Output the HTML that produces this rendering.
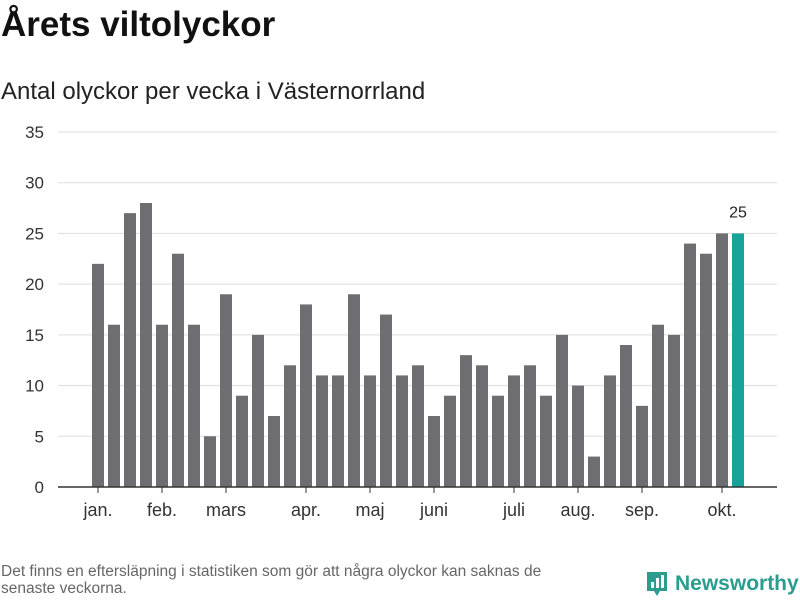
<!DOCTYPE html>
<html><head><meta charset="utf-8"><style>
body{margin:0;width:800px;height:600px;background:#fff;font-family:"Liberation Sans","DejaVu Sans",sans-serif;overflow:hidden;position:relative}
#title{position:absolute;left:1px;top:5px;font-size:35px;font-weight:bold;color:#111;margin:0}
#sub{position:absolute;left:1px;top:78px;font-size:24px;color:#222}
#foot{position:absolute;left:1px;top:563px;font-size:15.5px;color:#666;width:580px;line-height:17px}
#logo{position:absolute;left:645px;top:570px;display:flex;align-items:center;gap:6px;color:#2a9d8f;font-weight:bold;font-size:21px}
svg{position:absolute;left:0;top:0}
</style></head><body>
<h1 id="title">Årets viltolyckor</h1>
<div id="sub">Antal olyckor per vecka i Västernorrland</div>
<svg id="chart" width="800" height="600"></svg>
<div id="foot">Det finns en eftersläpning i statistiken som gör att några olyckor kan saknas de senaste veckorna.</div>
<div id="logo"><svg width="24" height="28" style="position:static"><path d="M2 2h20v19h-7l-3 5-3-5H2z" fill="#2a9d8f"/><rect x="6" y="12" width="3" height="6" fill="#fff"/><rect x="11" y="8" width="3" height="10" fill="#fff"/><rect x="16" y="5" width="3" height="13" fill="#fff"/></svg><span>Newsworthy</span></div>
<script>
const values=[22,16,27,28,16,23,16,5,19,9,15,7,12,18,11,11,19,11,17,11,12,7,9,13,12,9,11,12,9,15,10,3,11,14,8,16,15,24,23,25,25];
const yTicks=[0,5,10,15,20,25,30,35];
const monthLabels=["jan.","feb.","mars","apr.","maj","juni","juli","aug.","sep.","okt."];
const monthIdx=[0,4,8,13,17,21,26,30,34,39];
const svg=document.getElementById('chart');const NS='http://www.w3.org/2000/svg';
const y=v=>487-v*355/35;const x=i=>98+i*16;
function mk(t,a){const e=document.createElementNS(NS,t);for(const k in a)e.setAttribute(k,a[k]);svg.appendChild(e);return e;}
yTicks.forEach(t=>{
 if(t>0){const g=mk('line',{x1:58,x2:777,y1:y(t),y2:y(t),stroke:'#ddd','stroke-width':1});
 
 }
 const l=mk('text',{x:44,y:y(t)+6,'text-anchor':'end','font-size':17,fill:'#333'});l.textContent=t;
 
 
});
values.forEach((v,i)=>{
 const last=i===values.length-1;
 const r=mk('rect',{x:x(i)-6,y:y(v),width:12,height:487-y(v),fill:last?'#17a398':'#6e6d71'});
 
 
 if(last){const t=mk('text',{x:x(i),y:y(v)-16,'text-anchor':'middle','font-size':16,fill:'#222'});t.textContent=v;
 
 }
});
const ax=mk('line',{x1:58,x2:777,y1:487,y2:487,stroke:'#333','stroke-width':1.5});


monthLabels.forEach((m,k)=>{
 const tk=mk('line',{x1:x(monthIdx[k]),x2:x(monthIdx[k]),y1:487,y2:493,stroke:'#333'});
 
 
 const t=mk('text',{x:x(monthIdx[k]),y:516,'text-anchor':'middle','font-size':18,fill:'#333'});t.textContent=m;
 
 
});
</script>
</body></html>
